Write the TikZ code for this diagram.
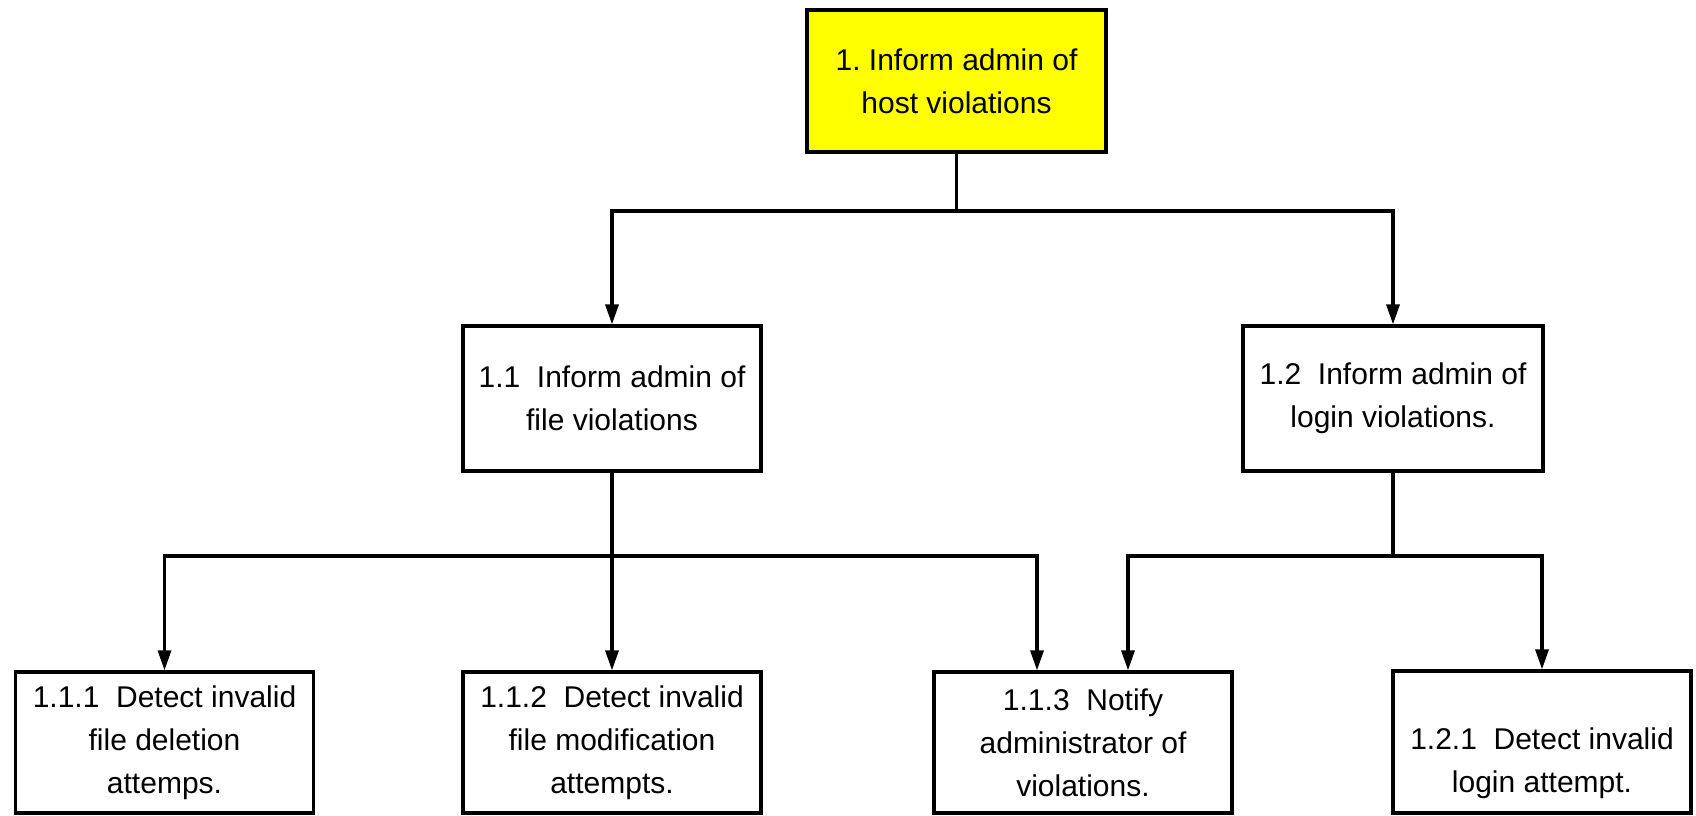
\documentclass[tikz,border=0pt]{standalone}
\usepackage{fontspec}
\setmainfont{Liberation Sans}
\usetikzlibrary{arrows.meta}
\definecolor{boxyellow}{RGB}{255,255,0}
\frenchspacing
\tikzset{
  box/.style={draw=black, line width=3.2pt, rectangle, inner sep=0pt, align=center,
    font=\fontsize{30}{43}\selectfont},
  topbox/.style={box, fill=boxyellow, minimum width=299pt, minimum height=142pt},
  midbox/.style={box, minimum width=298pt, minimum height=145pt},
  lowbox/.style={box, minimum width=298pt, minimum height=141pt},
  conn/.style={line width=3.2pt},
  arr/.style={conn, -{Triangle[length=20pt,width=13pt]}}
}
\begin{document}
\begin{tikzpicture}[x=1pt,y=-1pt]
\useasboundingbox (0,0) rectangle (1696,815);
\node[topbox] (top) at (956.5,81) {1.\ Inform admin of\\host violations};
\node[midbox] (n11) at (612,398.5) {1.1\ \ Inform admin of\\file violations};
\node[midbox, minimum width=300pt] (n12) at (1393,398.5) {1.2\ \ Inform admin of\\login violations.};
\node[lowbox] (n111) at (164.5,742.5) {1.1.1\ \ Detect invalid\\file deletion\\attemps.};
\node[lowbox] (n112) at (612,742.5) {1.1.2\ \ Detect invalid\\file modification\\attempts.};
\node[lowbox] (n113) at (1083,742.5) {1.1.3\ \ Notify\\administrator of\\violations.};
\node[lowbox, minimum height=142pt] (n121) at (1542,742) {\vphantom{1}\\1.2.1\ \ Detect invalid\\login attempt.};
% level 1 connectors
\coordinate (j0) at (top.south |- 0,211);
\draw[conn] (top.south) -- (j0);
\draw[arr] (j0) -| (n11.north);
\draw[arr] (j0) -| (n12.north);
% level 2 connectors from 1.1
\coordinate (j1) at (n11.south |- 0,556);
\draw[arr] (n11.south) -- (n112.north);
\draw[arr] (j1) -| (n111.north);
\draw[arr] (j1) -| ([xshift=-46pt]n113.north);
% level 2 connectors from 1.2
\coordinate (j2) at (n12.south |- 0,556);
\draw[conn] (n12.south) -- (j2);
\draw[arr] (j2) -| ([xshift=45pt]n113.north);
\draw[arr] (j2) -| (n121.north);
\end{tikzpicture}
\end{document}
